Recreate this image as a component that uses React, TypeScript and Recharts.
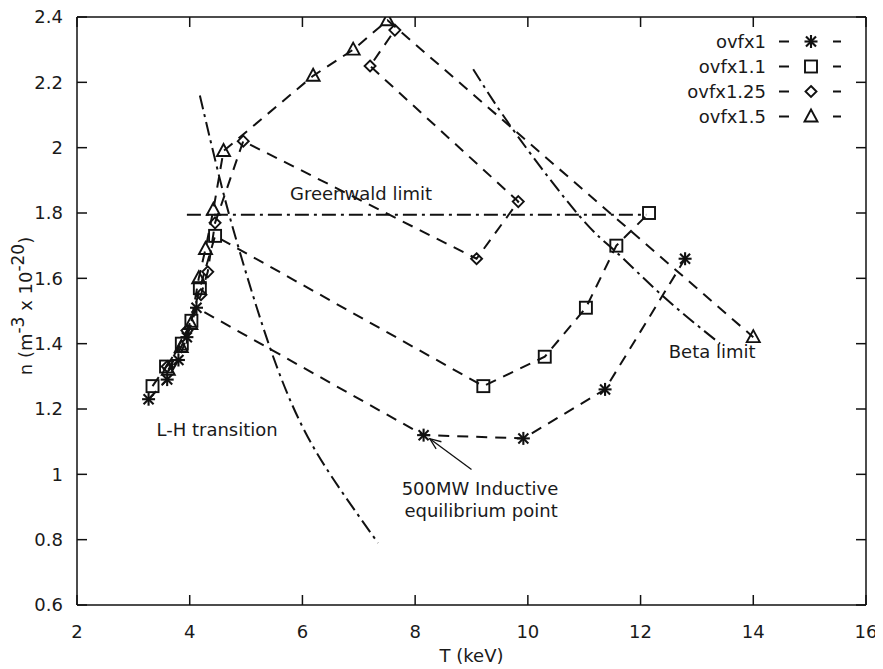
import React from "react";
import { LineChart, Line, XAxis, YAxis, ReferenceDot, ReferenceLine } from "recharts";

const xTicks = [2, 4, 6, 8, 10, 12, 14, 16];
const yTicks = [0.6, 0.8, 1, 1.2, 1.4, 1.6, 1.8, 2, 2.2, 2.4];
const X_MIN = 2;
const X_MAX = 16;
const Y_MIN = 0.6;
const Y_MAX = 2.4;

const seriesNames = ["ovfx1", "ovfx1.1", "ovfx1.25", "ovfx1.5"];

const ovfx1 = [
  { t: 3.27, n: 1.23 },
  { t: 3.6, n: 1.29 },
  { t: 3.8, n: 1.35 },
  { t: 3.95, n: 1.42 },
  { t: 4.12, n: 1.51 },
  { t: 8.15, n: 1.12 },
  { t: 9.92, n: 1.11 },
  { t: 11.37, n: 1.26 },
  { t: 12.79, n: 1.66 },
];

const ovfx11 = [
  { t: 3.34, n: 1.27 },
  { t: 3.58, n: 1.33 },
  { t: 3.86, n: 1.4 },
  { t: 4.03, n: 1.47 },
  { t: 4.18, n: 1.57 },
  { t: 4.45, n: 1.73 },
  { t: 9.21, n: 1.27 },
  { t: 10.3, n: 1.36 },
  { t: 11.03, n: 1.51 },
  { t: 11.57, n: 1.7 },
  { t: 12.15, n: 1.8 },
];

const ovfx125 = [
  { t: 3.6, n: 1.33 },
  { t: 3.95, n: 1.44 },
  { t: 4.2, n: 1.55 },
  { t: 4.32, n: 1.62 },
  { t: 4.45, n: 1.77 },
  { t: 4.95, n: 2.02 },
  { t: 9.09, n: 1.66 },
  { t: 9.83, n: 1.835 },
  { t: 7.2, n: 2.25 },
  { t: 7.64, n: 2.36 },
];

const ovfx15 = [
  { t: 3.62, n: 1.32 },
  { t: 3.85, n: 1.39 },
  { t: 4.02, n: 1.46 },
  { t: 4.16, n: 1.6 },
  { t: 4.28, n: 1.69 },
  { t: 4.42, n: 1.81 },
  { t: 4.6, n: 1.99 },
  { t: 6.19, n: 2.22 },
  { t: 6.9, n: 2.3 },
  { t: 7.51, n: 2.39 },
  { t: 14.0, n: 1.42 },
];

const greenwald = [
  { t: 3.95, n: 1.795 },
  { t: 12.1, n: 1.795 },
];

const lhTransition = [
  { t: 4.18, n: 2.16 },
  { t: 4.54, n: 1.9 },
  { t: 4.89, n: 1.68 },
  { t: 5.42, n: 1.39 },
  { t: 5.96, n: 1.16 },
  { t: 6.55, n: 0.985 },
  { t: 7.34, n: 0.79 },
];

const betaLimit = [
  { t: 9.03, n: 2.24 },
  { t: 9.8, n: 2.04 },
  { t: 10.92, n: 1.79 },
  { t: 11.57, n: 1.68 },
  { t: 12.4, n: 1.545 },
  { t: 13.41, n: 1.4 },
];

const INK = "#111";
const TEXT = "#1a1a1a";
const FONT = "'DejaVu Sans', sans-serif";
const DASH = "11 8";
const DASHDOT = "14 5 3 5";
const TICK = 10;

type Kind = "star" | "square" | "diamond" | "triangle";
const kinds: Kind[] = ["star", "square", "diamond", "triangle"];

function Marker({ kind, x, y }: { kind: Kind; x: number; y: number }) {
  const common = { stroke: INK, strokeWidth: 1.9, fill: "none" };
  if (kind === "star") {
    return (
      <g {...common} strokeWidth={2.1}>
        <line x1={x - 6.5} y1={y} x2={x + 6.5} y2={y} />
        <line x1={x} y1={y - 6.5} x2={x} y2={y + 6.5} />
        <line x1={x - 5} y1={y - 5} x2={x + 5} y2={y + 5} />
        <line x1={x - 5} y1={y + 5} x2={x + 5} y2={y - 5} />
      </g>
    );
  }
  if (kind === "square") {
    return <rect x={x - 6} y={y - 6} width={12} height={12} {...common} />;
  }
  if (kind === "diamond") {
    return <polygon points={`${x},${y - 5.5} ${x + 5.5},${y} ${x},${y + 5.5} ${x - 5.5},${y}`} {...common} />;
  }
  return <polygon points={`${x},${y - 7} ${x + 6.5},${y + 5} ${x - 6.5},${y + 5}`} {...common} />;
}

const dotFor = (kind: Kind) => (p: any) =>
  <Marker key={`${kind}-${p.index}`} kind={kind} x={p.cx} y={p.cy} />;

const note = (text: string, anchor: "start" | "middle" = "start") => (p: any) =>
  (
    <text x={p.cx} y={p.cy} textAnchor={anchor} fontFamily={FONT} fontSize={18} fill={TEXT}>
      {text}
    </text>
  );

// short inward tick drawn from an axis point (dx, dy gives the direction)
const stub = (dx: number, dy: number) => (p: any) =>
  (
    <line
      x1={p.cx}
      y1={p.cy}
      x2={p.cx + dx * TICK}
      y2={p.cy + dy * TICK}
      stroke={INK}
      strokeWidth={1.5}
    />
  );

function Arrow(p: any) {
  const { x1, y1, x2, y2 } = p;
  const a = Math.atan2(y2 - y1, x2 - x1);
  const L = 12;
  const s = 0.38;
  const b1 = [x2 - L * Math.cos(a - s), y2 - L * Math.sin(a - s)];
  const b2 = [x2 - L * Math.cos(a + s), y2 - L * Math.sin(a + s)];
  return (
    <g stroke={INK} strokeWidth={1.3} fill="none">
      <line x1={x1} y1={y1} x2={x2} y2={y2} />
      <polyline points={`${b1[0]},${b1[1]} ${x2},${y2} ${b2[0]},${b2[1]}`} />
    </g>
  );
}

function YLabel() {
  const cx = 24;
  const cy = 298;
  return (
    <text
      x={cx}
      y={cy}
      transform={`rotate(-90 ${cx} ${cy})`}
      textAnchor="middle"
      fontFamily={FONT}
      fontSize={18}
      fill={TEXT}
    >
      n (m<tspan dy={-8} fontSize={17}>-3</tspan>
      <tspan dy={8}> x 10</tspan>
      <tspan dy={-8} fontSize={17}>-20</tspan>
      <tspan dy={8}>)</tspan>
    </text>
  );
}

function LegendOverlay() {
  const rows = seriesNames.map((name, i) => ({ name, kind: kinds[i], y: 40 + i * 25 }));
  return (
    <svg width={875} height={660} style={{ position: "absolute", left: 0, top: 0, pointerEvents: "none" }}>
      {rows.map((r) => (
        <g key={r.name}>
          <text x={758} y={r.y} textAnchor="end" fontFamily={FONT} fontSize={18} fill={TEXT}>
            {r.name}
          </text>
          <line x1={771} y1={r.y - 6.5} x2={781} y2={r.y - 6.5} stroke={INK} strokeWidth={2} />
          <line x1={825} y1={r.y - 6.5} x2={833} y2={r.y - 6.5} stroke={INK} strokeWidth={2} />
          <Marker kind={r.kind} x={803} y={r.y - 6.5} />
        </g>
      ))}
    </svg>
  );
}

export default function App() {
  const axisLine = { stroke: INK, strokeWidth: 1.5 };
  const tickStyle = { fill: TEXT, fontSize: 18, fontFamily: FONT };
  const lineProps = {
    dataKey: "n",
    stroke: INK,
    strokeWidth: 2,
    isAnimationActive: false,
    activeDot: false as const,
    type: "linear" as const,
  };
  return (
    <div style={{ position: "relative", width: 875, height: 660, background: "#fff" }}>
      <LineChart width={875} height={660} margin={{ top: 8, right: 16, left: 0, bottom: 0 }}>
        <XAxis
          dataKey="t"
          type="number"
          domain={[X_MIN, X_MAX]}
          ticks={xTicks}
          interval={0}
          height={63}
          tickSize={0}
          tickMargin={20}
          axisLine={axisLine}
          tickLine={false}
          tick={tickStyle}
          allowDataOverflow
          label={{
            value: "T (keV)",
            position: "insideBottom",
            offset: 6,
            style: { fill: TEXT, fontSize: 18, fontFamily: FONT },
          }}
        />
        <XAxis
          xAxisId="top"
          orientation="top"
          type="number"
          domain={[X_MIN, X_MAX]}
          ticks={xTicks}
          height={1}
          tickSize={0}
          axisLine={axisLine}
          tickLine={false}
          tick={false}
        />
        <YAxis
          type="number"
          domain={[Y_MIN, Y_MAX]}
          ticks={yTicks}
          interval={0}
          width={69}
          tickSize={0}
          tickMargin={14}
          axisLine={axisLine}
          tickLine={false}
          tick={tickStyle}
          allowDataOverflow
          label={{ content: () => <YLabel /> }}
        />
        <YAxis
          yAxisId="right"
          orientation="right"
          type="number"
          domain={[Y_MIN, Y_MAX]}
          ticks={yTicks}
          width={1}
          tickSize={0}
          axisLine={axisLine}
          tickLine={false}
          tick={false}
        />

        {xTicks.map((t) => (
          <ReferenceDot key={`xb-${t}`} x={t} y={Y_MIN} r={0} shape={stub(0, -1)} />
        ))}
        {xTicks.map((t) => (
          <ReferenceDot key={`xt-${t}`} x={t} y={Y_MAX} r={0} shape={stub(0, 1)} />
        ))}
        {yTicks.map((v) => (
          <ReferenceDot key={`yl-${v}`} x={X_MIN} y={v} r={0} shape={stub(1, 0)} />
        ))}
        {yTicks.map((v) => (
          <ReferenceDot key={`yr-${v}`} x={X_MAX} y={v} r={0} shape={stub(-1, 0)} />
        ))}

        <Line {...lineProps} data={greenwald} strokeDasharray={DASHDOT} dot={false} />
        <Line {...lineProps} type="natural" data={lhTransition} strokeDasharray={DASHDOT} dot={false} />
        <Line {...lineProps} type="natural" data={betaLimit} strokeDasharray={DASHDOT} dot={false} />

        <Line {...lineProps} name={seriesNames[0]} data={ovfx1} strokeDasharray={DASH} dot={dotFor("star")} />
        <Line {...lineProps} name={seriesNames[1]} data={ovfx11} strokeDasharray={DASH} dot={dotFor("square")} />
        <Line {...lineProps} name={seriesNames[2]} data={ovfx125} strokeDasharray={DASH} dot={dotFor("diamond")} />
        <Line {...lineProps} name={seriesNames[3]} data={ovfx15} strokeDasharray={DASH} dot={dotFor("triangle")} />

        <ReferenceDot x={5.78} y={1.84} r={0} shape={note("Greenwald limit")} />
        <ReferenceDot x={3.41} y={1.116} r={0} shape={note("L-H transition")} />
        <ReferenceDot x={12.5} y={1.357} r={0} shape={note("Beta limit")} />
        <ReferenceDot x={9.15} y={0.938} r={0} shape={note("500MW Inductive", "middle")} />
        <ReferenceDot x={9.17} y={0.868} r={0} shape={note("equilibrium point", "middle")} />
        <ReferenceLine
          segment={[
            { x: 9.0, y: 1.015 },
            { x: 8.26, y: 1.109 },
          ]}
          shape={Arrow}
        />
      </LineChart>
      <LegendOverlay />
    </div>
  );
}
